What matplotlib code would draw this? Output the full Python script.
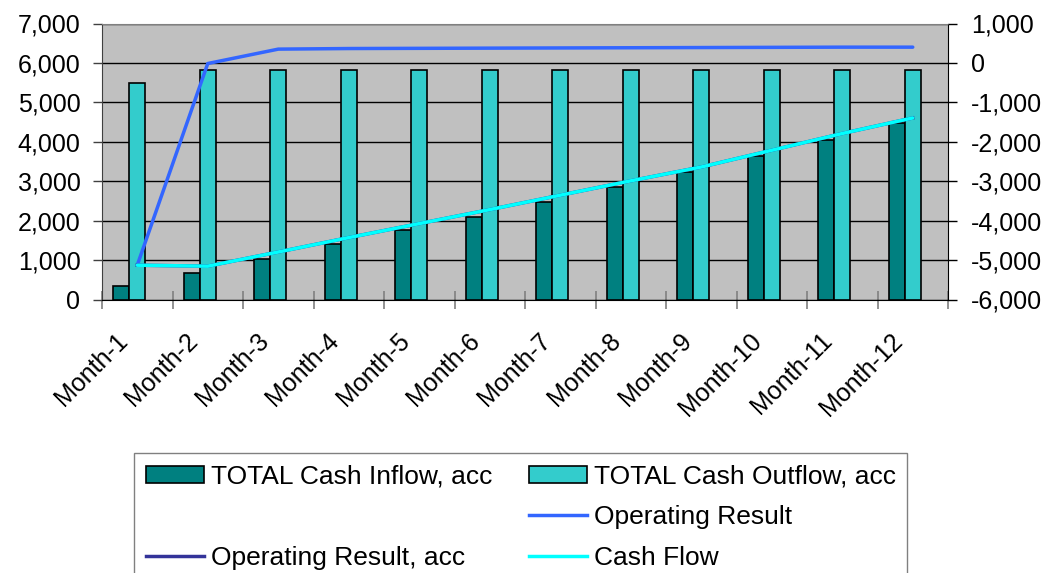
import numpy as np
import matplotlib.pyplot as plt
import matplotlib.transforms as mtransforms
from matplotlib.patches import Patch
from matplotlib.lines import Line2D

plt.rcParams['font.family'] = ['Liberation Sans', 'DejaVu Sans']

months = ["Month-%d" % i for i in range(1, 13)]
cash_inflow_acc = [340, 675, 1030, 1395, 1755, 2095, 2485, 2865, 3235, 3650, 4040, 4465]
cash_outflow_acc = [5480, 5830, 5830, 5830, 5830, 5830, 5830, 5830, 5830, 5830, 5830, 5830]
operating_result = [-5130, -15, 350, 365, 370, 375, 380, 385, 390, 395, 400, 400]
operating_result_acc = [-5130, -5155, -4795, -4430, -4075, -3720, -3355, -2990, -2640, -2215, -1790, -1395]
cash_flow = [-5130, -5155, -4795, -4430, -4075, -3720, -3355, -2990, -2640, -2215, -1790, -1395]

c_in = '#008080'
c_out = '#33CCCC'
c_op = '#3366FF'
c_opacc = '#333399'
c_cf = '#00FFFF'
fs_tick = 18
fs_leg = 19

fig = plt.figure(figsize=(10.56, 5.73), dpi=100)
ax = fig.add_axes([102 / 1056, 1 - 299.5 / 573, 846 / 1056, 276 / 573])
ax.set_facecolor('#C0C0C0')

x = np.arange(len(months))
w = 0.228
ax.bar(x - w, cash_inflow_acc, w, color=c_in, edgecolor='black', linewidth=1.2)
ax.bar(x, cash_outflow_acc, w, color=c_out, edgecolor='black', linewidth=1.2)
ax.set_ylim(0, 7000)
ax.set_xlim(-0.5, 11.5)
ax.set_yticks(np.arange(0, 7001, 1000))
ax.set_yticklabels(["{:,}".format(v) for v in range(0, 7001, 1000)], fontsize=fs_tick)
ax.yaxis.grid(True, color='black', linewidth=1)
ax.set_axisbelow(True)
ax.tick_params(axis='y', direction='out', length=6.5, width=1, color='#404040', pad=9)

ax.set_xticks(x)
ax.set_xticklabels(months, fontsize=fs_tick, rotation=45, ha='right', va='top',
                   rotation_mode='anchor')
ax.set_xticks(np.arange(-0.5, 12, 1), minor=True)
ax.tick_params(axis='x', which='major', length=0, pad=21)
ax.tick_params(axis='x', which='minor', direction='inout', length=13, width=1.2, color='#808080')
offset = mtransforms.ScaledTranslation(-0.22, 0, fig.dpi_scale_trans)
for lab in ax.get_xticklabels():
    lab.set_transform(lab.get_transform() + offset)

ax.spines['top'].set_color('#808080')
ax.spines['left'].set_color('#404040')
ax.spines['bottom'].set_color('black')
ax.spines['right'].set_color('black')

ax2 = ax.twinx()
ax2.plot(x, operating_result, color=c_op, linewidth=2.5, solid_capstyle='round')
ax2.plot(x, operating_result_acc, color=c_opacc, linewidth=2.5)
ax2.plot(x, cash_flow, color=c_cf, linewidth=2.5, solid_capstyle='round')
ax2.set_ylim(-6000, 1000)
ax2.set_yticks(np.arange(-6000, 1001, 1000))
ax2.set_yticklabels(["{:,}".format(v) for v in range(-6000, 1001, 1000)], fontsize=fs_tick)
ax2.tick_params(axis='y', direction='out', length=6.5, width=1, color='black', pad=10)
for s in ax2.spines.values():
    s.set_visible(False)

handles = [
    Patch(facecolor=c_in, edgecolor='black', linewidth=1.2),
    Patch(visible=False),
    Line2D([], [], color=c_opacc, linewidth=2.5),
    Patch(facecolor=c_out, edgecolor='black', linewidth=1.2),
    Line2D([], [], color=c_op, linewidth=2.5),
    Line2D([], [], color=c_cf, linewidth=2.5),
]
labels = ["TOTAL Cash Inflow, acc", "", "Operating Result, acc",
          "TOTAL Cash Outflow, acc", "Operating Result", "Cash Flow"]
leg = fig.legend(handles, labels, ncol=2, loc='upper left',
                 bbox_to_anchor=(134 / 1056, 1 - 453 / 573),
                 fontsize=fs_leg, frameon=True, fancybox=False, shadow=False,
                 edgecolor='#808080', framealpha=1, borderpad=0.45,
                 handlelength=2.2, handleheight=0.6, handletextpad=0.25,
                 columnspacing=1.4, labelspacing=0.62, borderaxespad=0)
leg.get_frame().set_linewidth(1)

plt.savefig("out.png", dpi=100)
